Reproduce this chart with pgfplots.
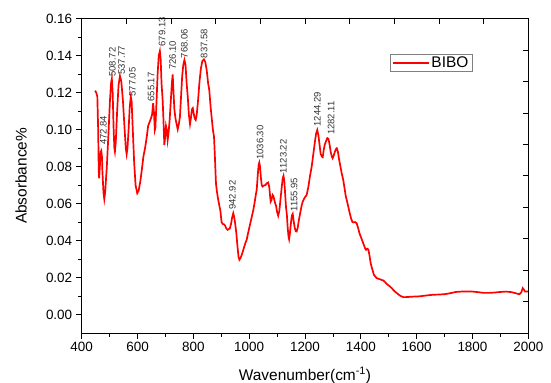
\documentclass[border=0pt]{standalone}
\usepackage{pgfplots}
\pgfplotsset{compat=1.18}
\usepackage{fontspec}
\setmainfont{Liberation Sans}
\pgfplotstableread{
x y
448 0.1211
452 0.1200
456 0.1180
459 0.1000
461 0.0780
462.5 0.0737
465 0.0800
468 0.0880
470 0.0886
472.8 0.0850
474 0.0780
476 0.0720
478 0.0660
481 0.0624
484 0.0660
490 0.0800
496 0.0980
501 0.1150
505 0.1250
508 0.1275
511 0.1200
514 0.1020
517 0.0900
519 0.0881
522 0.0930
527 0.1100
532 0.1240
537 0.1290
542 0.1260
548 0.1150
553 0.1020
558 0.0900
561 0.0867
564 0.0900
568 0.1000
572 0.1120
576 0.1178
579 0.1150
583 0.1000
588 0.0820
593 0.0700
599 0.0656
604 0.0670
610 0.0720
616 0.0790
621 0.0854
627 0.0900
633 0.0960
638 0.1020
643 0.1040
648 0.1060
652 0.1080
656 0.1143
659 0.1090
662 0.0998
664 0.1010
668 0.1150
672 0.1300
676 0.1400
680 0.1425
683 0.1380
686 0.1250
690 0.1160
693 0.1050
696 0.0917
699 0.0960
702 0.1020
705 0.1000
708 0.0944
711 0.0980
715 0.1050
719 0.1150
723 0.1250
726 0.1299
729 0.1200
732 0.1110
736 0.1060
740 0.1030
744 0.1002
748 0.1030
752 0.1070
756 0.1180
760 0.1290
764 0.1350
768 0.1377
772 0.1350
776 0.1250
780 0.1178
784 0.1080
788 0.1030
791 0.1060
795 0.1110
798 0.1116
801 0.1090
805 0.1060
808.5 0.1052
812 0.1080
817 0.1160
822 0.1260
827 0.1330
832 0.1370
838 0.1380
843 0.1365
848 0.1320
853 0.1250
857 0.1215
862 0.1120
866 0.1060
870 0.1000
874 0.0962
877 0.0860
881 0.0710
884 0.0670
888 0.0630
893 0.0590
897 0.0560
901 0.0500
905 0.0490
910 0.0488
914 0.0480
918 0.0465
923 0.0458
927 0.0462
931 0.0467
935 0.0490
939 0.0525
943 0.0548
946 0.0530
950 0.0490
954 0.0440
958 0.0370
962 0.0310
965 0.0296
969 0.0305
975 0.0330
981 0.0360
986 0.0385
991 0.0404
996 0.0440
1002 0.0480
1008 0.0520
1015 0.0566
1020 0.0610
1024 0.0650
1027 0.0674
1031 0.0760
1034 0.0810
1036.3 0.0822
1039 0.0800
1042 0.0740
1045 0.0700
1048 0.0692
1053 0.0698
1058 0.0700
1063 0.0710
1068 0.0714
1072 0.0690
1075 0.0640
1077 0.0611
1080 0.0620
1084 0.0647
1087 0.0640
1090 0.0620
1093 0.0602
1096 0.0590
1100 0.0555
1104 0.0534
1108 0.0560
1112 0.0620
1116 0.0680
1120 0.0735
1123 0.0750
1126 0.0720
1129 0.0650
1132 0.0580
1135 0.0540
1138 0.0470
1141 0.0420
1143 0.0407
1146 0.0440
1150 0.0500
1153 0.0535
1156 0.0544
1159 0.0510
1163 0.0470
1167 0.0450
1170 0.0449
1174 0.0470
1178 0.0510
1183 0.0550
1188 0.0590
1192 0.0611
1198 0.0630
1206 0.0647
1212 0.0690
1218 0.0750
1224 0.0800
1230 0.0870
1236 0.0940
1240 0.0980
1244 0.0998
1248 0.0970
1252 0.0920
1256 0.0870
1260 0.0855
1263.5 0.0851
1267 0.0890
1271 0.0920
1276 0.0940
1280 0.0954
1284 0.0950
1288 0.0920
1292 0.0880
1296 0.0855
1299 0.0845
1303 0.0860
1307 0.0880
1311 0.0895
1314 0.0899
1318 0.0880
1322 0.0840
1327 0.0800
1332 0.0760
1337 0.0728
1342 0.0680
1346 0.0640
1351 0.0610
1355 0.0584
1360 0.0550
1365 0.0520
1370 0.0500
1374 0.0498
1379 0.0500
1385 0.0494
1390 0.0470
1395 0.0440
1400 0.0420
1405 0.0400
1410 0.0380
1415 0.0359
1419 0.0350
1423 0.0356
1427 0.0352
1431 0.0320
1435 0.0280
1440 0.0250
1447 0.0215
1452 0.0205
1457 0.0197
1463 0.0193
1470 0.0190
1476 0.0186
1481 0.0184
1487 0.0175
1493 0.0165
1499 0.0158
1505 0.0151
1511 0.0142
1517 0.0132
1523 0.0123
1529 0.0116
1535 0.0108
1541 0.0102
1547 0.0097
1553 0.0094
1560 0.0094
1570 0.0095
1580 0.0096
1590 0.0097
1600 0.0097
1620 0.0100
1640 0.0104
1660 0.0107
1680 0.0108
1700 0.0110
1720 0.0115
1740 0.0122
1760 0.0124
1780 0.0125
1800 0.0124
1820 0.0121
1840 0.0117
1860 0.0117
1880 0.0119
1900 0.0122
1920 0.0124
1940 0.0121
1960 0.0113
1968 0.0110
1975 0.0120
1980 0.0143
1984 0.0135
1988 0.0124
1994 0.0124
2000 0.0124
}\spectrum
\pgfplotstableread{
x y lab
477.4 0.0917 472.84
509.6 0.1286 508.72
543.3 0.1296 537.77
581.3 0.1178 577.05
648.3 0.1151 655.17
687.7 0.1449 679.13
726.0 0.1323 726.10
767.6 0.1386 768.06
838.2 0.1386 837.58
939.6 0.0566 942.92
1038.9 0.0836 1036.30
1122.3 0.0764 1123.22
1160.7 0.0557 1155.95
1244.2 0.1016 1244.29
1293.3 0.0971 1282.11
}\peaks
\begin{document}
\begin{tikzpicture}
\useasboundingbox (-81.7bp,-50bp) rectangle (469.3bp,333bp);
\begin{axis}[
  scale only axis, width=446.6bp, height=314.3bp,
  xmin=400, xmax=2000, ymin=-0.01, ymax=0.16,
  xtick={400,600,800,1000,1200,1400,1600,1800,2000},
  ytick={0,0.02,0.04,0.06,0.08,0.10,0.12,0.14,0.16},
  minor x tick num=1, minor y tick num=1,
  xtick pos=left, ytick pos=left, tick align=outside,
  major tick length=6bp, minor tick length=3.5bp,
  axis line style={line width=0.8bp},
  every tick/.style={black, line width=0.8bp},
  /pgf/number format/assume math mode=true,
  /pgf/number format/1000 sep={},
  tick label style={font=\fontsize{13.5}{15}\selectfont},
  yticklabel style={/pgf/number format/.cd, fixed, fixed zerofill, precision=2},
  xlabel={Wavenumber(cm\textsuperscript{-1})},
  ylabel={Absorbance\%},
  label style={font=\fontsize{15.5}{17}\selectfont},
  xlabel style={at={(axis description cs:0.5,0)}, anchor=base, yshift=-47bp},
  ylabel style={at={(axis description cs:0,0.5)}, anchor=center, rotate=0, yshift=60.7bp},
  legend style={at={(axis description cs:0.6903,0.8877)}, anchor=north west,
    draw=gray, line width=0.6bp, font=\fontsize{15.5}{17}\selectfont,
    inner xsep=1.5bp, inner ysep=0.5bp},
  legend image code/.code={\draw[#1] (0bp,0bp) -- (36bp,0bp);},
  legend cell align=left,
]
\addplot[red, line width=1.7bp] table[x=x, y=y] {\spectrum};
\addlegendentry{BIBO}
\addplot[draw=none, mark=none, forget plot, nodes near coords, point meta=explicit symbolic,
  nodes near coords align=horizontal,
  every node near coord/.append style={rotate=90, anchor=west, inner sep=0pt,
    font=\fontsize{9.5}{10}\selectfont, text=black!80}]
  table[x=x, y=y, meta=lab] {\peaks};
\end{axis}
\begin{axis}[
  scale only axis, width=446.6bp, height=314.3bp,
  xmin=400, xmax=2000, ymin=-0.01, ymax=0.16,
  xtick={560,720,880,1040,1200,1360,1520,1680,1840},
  ytick={0.007,0.024,0.041,0.058,0.075,0.092,0.109,0.126,0.143},
  minor tick num=0,
  xtick pos=right, ytick pos=right, tick align=inside,
  major tick length=5bp,
  xticklabels={}, yticklabels={},
  axis line style={line width=0.8bp},
  every tick/.style={black, line width=0.8bp},
]
\end{axis}
\end{tikzpicture}
\end{document}
